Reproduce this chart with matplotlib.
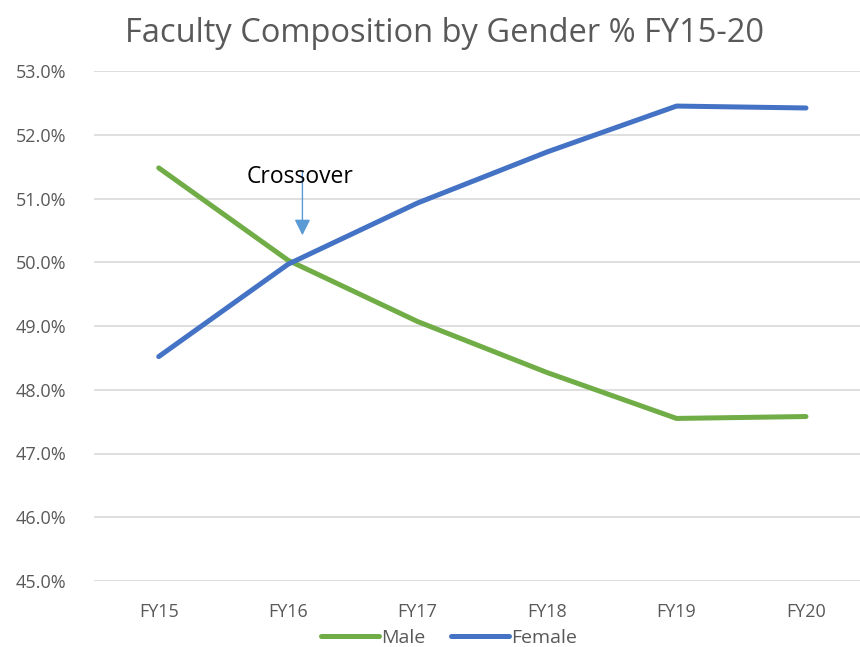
import matplotlib.pyplot as plt
from matplotlib.ticker import FuncFormatter

YEARS = ["FY15", "FY16", "FY17", "FY18", "FY19", "FY20"]
MALE = [51.48, 50.03, 49.07, 48.27, 47.55, 47.58]
FEMALE = [48.52, 49.97, 50.93, 51.73, 52.45, 52.42]

MALE_COLOR = '#70AD47'
FEMALE_COLOR = '#4472C4'
TEXT_COLOR = '#595959'
GRID_COLOR = '#D9D9D9'

plt.rcParams['font.family'] = ['Open Sans', 'DejaVu Sans']

fig = plt.figure(figsize=(8.6, 6.47), dpi=100)
ax = fig.add_axes([94 / 860, 1 - 581 / 647, (870.7 - 94) / 860, (581 - 71) / 647])

x = range(len(YEARS))
ax.plot(x, MALE, color=MALE_COLOR, linewidth=3.6, solid_capstyle='round', label='Male')
ax.plot(x, FEMALE, color=FEMALE_COLOR, linewidth=3.6, solid_capstyle='round', label='Female')

ax.set_xlim(-0.5, len(YEARS) - 0.5)
ax.set_ylim(45, 53)
ax.set_yticks(range(45, 54))
ax.yaxis.set_major_formatter(FuncFormatter(lambda v, p: f'{v:.1f}%'))
ax.set_xticks(list(x))
ax.set_xticklabels(YEARS)
ax.tick_params(length=0, colors=TEXT_COLOR, labelsize=13)
ax.tick_params(axis='x', pad=16)
ax.tick_params(axis='y', pad=20)
ax.grid(axis='y', color=GRID_COLOR, linewidth=1.2)
ax.set_axisbelow(True)
for s in ax.spines.values():
    s.set_visible(False)

# crossover annotation
ax.annotate('', xy=(1.11, 50.38), xytext=(1.11, 51.45),
            arrowprops=dict(arrowstyle='-|>', color='#5B9BD5', lw=1, mutation_scale=24))
ax.text(1.09, 51.33, 'Crossover', ha='center', va='center', fontsize=16.5, color='black')

fig.text(0.517, 1 - 33 / 647, 'Faculty Composition by Gender % FY15-20', ha='center', va='center',
         fontsize=23.5, color=TEXT_COLOR)

leg = fig.legend(loc='center', ncol=2, frameon=False,
                 fontsize=14, labelcolor=TEXT_COLOR, handlelength=3.0, handletextpad=0.1,
                 columnspacing=1.3)
leg.set_bbox_to_anchor((0.522, 1 - 638 / 647), transform=fig.transFigure)

fig.savefig('out.png', dpi=100)
